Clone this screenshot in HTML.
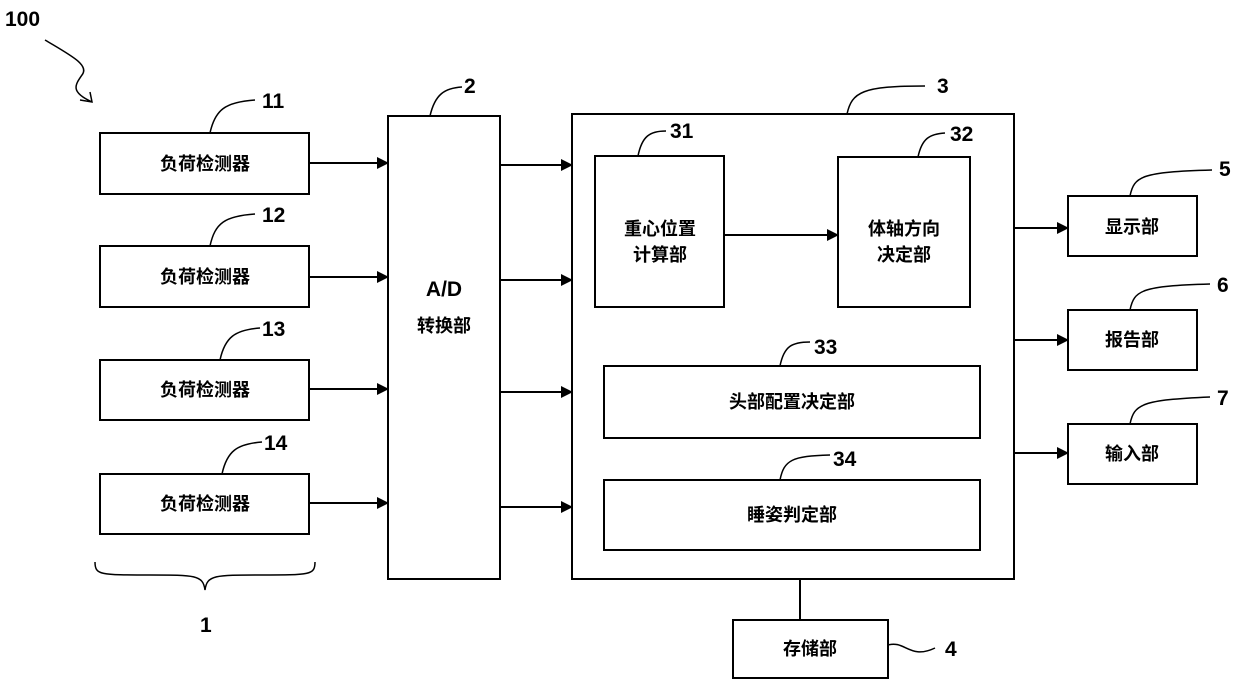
<!DOCTYPE html>
<html><head><meta charset="utf-8"><style>
html,body{margin:0;padding:0;background:#fff;}
svg{display:block;}
text{font-family:"Liberation Sans","Noto Sans CJK SC",sans-serif;fill:#000;}
.c{font-size:18px;font-weight:bold;text-anchor:middle;}
.n{font-size:21px;font-weight:bold;}
</style></head><body>
<svg width="1240" height="686" viewBox="0 0 1240 686" xmlns="http://www.w3.org/2000/svg">
<defs><marker id="a" markerWidth="12" markerHeight="12" refX="11" refY="6" orient="auto" markerUnits="userSpaceOnUse"><path d="M0,0 L12,6 L0,12 z" fill="#000"/></marker></defs>
<g fill="none" stroke="#000" stroke-width="2">
<rect x="100" y="133" width="209" height="61"/>
<rect x="100" y="246" width="209" height="61"/>
<rect x="100" y="360" width="209" height="60"/>
<rect x="100" y="474" width="209" height="60"/>
<rect x="388" y="116" width="112" height="463"/>
<rect x="572" y="114" width="442" height="465"/>
<rect x="595" y="156" width="129" height="151"/>
<rect x="838" y="157" width="132" height="150"/>
<rect x="604" y="366" width="376" height="72"/>
<rect x="604" y="480" width="376" height="70"/>
<rect x="1068" y="196" width="129" height="60"/>
<rect x="1068" y="310" width="129" height="60"/>
<rect x="1068" y="424" width="129" height="60"/>
<rect x="733" y="620" width="155" height="58"/>
<g marker-end="url(#a)">
<line x1="309" y1="163" x2="388" y2="163"/>
<line x1="309" y1="277" x2="388" y2="277"/>
<line x1="309" y1="389" x2="388" y2="389"/>
<line x1="309" y1="503" x2="388" y2="503"/>
<line x1="500" y1="165" x2="572" y2="165"/>
<line x1="500" y1="280" x2="572" y2="280"/>
<line x1="500" y1="392" x2="572" y2="392"/>
<line x1="500" y1="507" x2="572" y2="507"/>
<line x1="724" y1="235" x2="838" y2="235"/>
<line x1="1014" y1="228" x2="1068" y2="228"/>
<line x1="1014" y1="340" x2="1068" y2="340"/>
<line x1="1014" y1="453" x2="1068" y2="453"/>
</g>
<line x1="800" y1="579" x2="800" y2="620"/>
<g stroke-width="1.5">
<path d="M210,133 C215,110 225,102 255,100"/>
<path d="M210,246 C215,223 225,216 255,214"/>
<path d="M220,360 C225,337 235,330 260,328"/>
<path d="M222,474 C227,451 237,444 262,442"/>
<path d="M430,116 C435,94 445,88 462,87"/>
<path d="M847,114 C852,92 862,86 925,86"/>
<path d="M638,156 C642,136 650,131 666,131"/>
<path d="M918,157 C922,138 930,134 945,133"/>
<path d="M780,366 C784,346 792,342 810,342"/>
<path d="M780,480 C784,460 792,456 830,455"/>
<path d="M1130,196 C1134,176 1142,172 1212,170"/>
<path d="M1130,310 C1134,290 1142,286 1210,284"/>
<path d="M1130,424 C1134,404 1142,400 1210,397"/>
<path d="M888,645 C905,640 910,660 935,648"/>
<path d="M45,40 C70,55 90,65 82,75 C75,85 70,92 92,102"/>
<path d="M80,100 L92,102 L90,92"/>
<path d="M95,562 C95,575 100,575 150,575 C195,575 203,575 205,590 C207,575 215,575 260,575 C310,575 315,575 315,562"/>
</g>
</g>
<text class="n" x="5" y="26">100</text>
<text class="n" x="262" y="108">11</text>
<text class="n" x="262" y="222">12</text>
<text class="n" x="262" y="336">13</text>
<text class="n" x="264" y="450">14</text>
<text class="n" x="464" y="93">2</text>
<text class="n" x="937" y="93">3</text>
<text class="n" x="670" y="138">31</text>
<text class="n" x="950" y="141">32</text>
<text class="n" x="814" y="354">33</text>
<text class="n" x="833" y="466">34</text>
<text class="n" x="1219" y="176">5</text>
<text class="n" x="1217" y="292">6</text>
<text class="n" x="1217" y="405">7</text>
<text class="n" x="945" y="656">4</text>
<text class="n" x="200" y="632">1</text>
<text class="c" x="205" y="170">负荷检测器</text>
<text class="c" x="205" y="283">负荷检测器</text>
<text class="c" x="205" y="396">负荷检测器</text>
<text class="c" x="205" y="510">负荷检测器</text>
<text class="c" x="444" y="296" style="font-size:21px">A/D</text>
<text class="c" x="444" y="332">转换部</text>
<text class="c" x="660" y="235">重心位置</text>
<text class="c" x="660" y="261">计算部</text>
<text class="c" x="904" y="235">体轴方向</text>
<text class="c" x="904" y="261">决定部</text>
<text class="c" x="792" y="408">头部配置决定部</text>
<text class="c" x="792" y="521">睡姿判定部</text>
<text class="c" x="1132" y="233">显示部</text>
<text class="c" x="1132" y="346">报告部</text>
<text class="c" x="1132" y="460">输入部</text>
<text class="c" x="810" y="655">存储部</text>
</svg>
</body></html>
